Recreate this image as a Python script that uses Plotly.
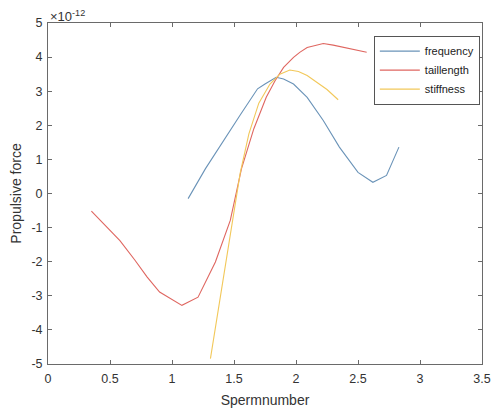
import plotly.graph_objects as go

# Values in units of 1e-12
freq_x = [1.13, 1.27, 1.55, 1.69, 1.75, 1.84, 1.90, 1.98, 2.09, 2.22, 2.35, 2.50, 2.62, 2.73, 2.83]
freq_y = [-0.15, 0.73, 2.30, 3.07, 3.21, 3.41, 3.36, 3.21, 2.82, 2.14, 1.36, 0.62, 0.33, 0.53, 1.36]

tail_x = [0.35, 0.50, 0.58, 0.70, 0.80, 0.90, 1.08, 1.21, 1.35, 1.47, 1.56, 1.66, 1.76, 1.83,
          1.90, 1.98, 2.03, 2.09, 2.17, 2.22, 2.30, 2.42, 2.57]
tail_y = [-0.52, -1.10, -1.38, -1.95, -2.45, -2.89, -3.28, -3.04, -2.01, -0.79, 0.72, 1.90, 2.82, 3.30,
          3.70, 3.99, 4.14, 4.28, 4.36, 4.40, 4.35, 4.25, 4.14]

stiff_x = [1.31, 1.40, 1.47, 1.55, 1.62, 1.70, 1.79, 1.87, 1.95, 2.02, 2.09, 2.17, 2.25, 2.34]
stiff_y = [-4.84, -2.80, -1.20, 0.60, 1.75, 2.65, 3.21, 3.50, 3.62, 3.58, 3.46, 3.25, 3.05, 2.75]

x_ticks = [0, 0.5, 1, 1.5, 2, 2.5, 3, 3.5]
x_ticklabels = ["0", "0.5", "1", "1.5", "2", "2.5", "3", "3.5"]
y_ticks = [-5, -4, -3, -2, -1, 0, 1, 2, 3, 4, 5]
y_ticklabels = ["-5", "-4", "-3", "-2", "-1", "0", "1", "2", "3", "4", "5"]

fig = go.Figure()
fig.add_trace(go.Scatter(x=freq_x, y=freq_y, mode="lines", name="frequency",
                         line=dict(color="#6a93b8", width=1.1)))
fig.add_trace(go.Scatter(x=tail_x, y=tail_y, mode="lines", name="taillength",
                         line=dict(color="#df6660", width=1.1)))
fig.add_trace(go.Scatter(x=stiff_x, y=stiff_y, mode="lines", name="stiffness",
                         line=dict(color="#f2c85a", width=1.1)))

axis_common = dict(showline=True, linecolor="#6a6a6a", linewidth=1, mirror="ticks",
                   ticks="inside", ticklen=4, tickcolor="#6a6a6a", showgrid=False,
                   zeroline=False, automargin=False,
                   tickfont=dict(family="Liberation Sans, Arial", size=12.5, color="#333333"))

fig.update_layout(
    width=493, height=414,
    margin=dict(l=48, r=11, t=23, b=50),
    paper_bgcolor="white", plot_bgcolor="white",
    font=dict(family="Liberation Sans, Arial", size=11, color="#333333"),
    xaxis=dict(range=[0, 3.5], tickvals=x_ticks, ticktext=x_ticklabels, ticklabelstandoff=3,
               title=dict(text="Spermnumber", font=dict(size=14, color="#333333"), standoff=10),
               **axis_common),
    yaxis=dict(range=[-5, 5], tickvals=y_ticks, ticktext=y_ticklabels, ticklabelstandoff=2,
               title=dict(text="Propulsive force", font=dict(size=14, color="#333333"), standoff=6),
               **axis_common),
    legend=dict(x=0.995, y=0.963, xanchor="right", yanchor="top",
                bgcolor="white", bordercolor="#555555", borderwidth=1,
                font=dict(size=11, color="#222222"), itemwidth=40,
                tracegroupgap=0),
    showlegend=True,
)

fig.add_annotation(text="\u00d710<sup>-12</sup>", xref="paper", yref="paper", x=0.0, y=1.0,
                   xanchor="left", yanchor="bottom", showarrow=False,
                   font=dict(size=13, color="#333333"), yshift=-3)

fig.write_html("out.html")
